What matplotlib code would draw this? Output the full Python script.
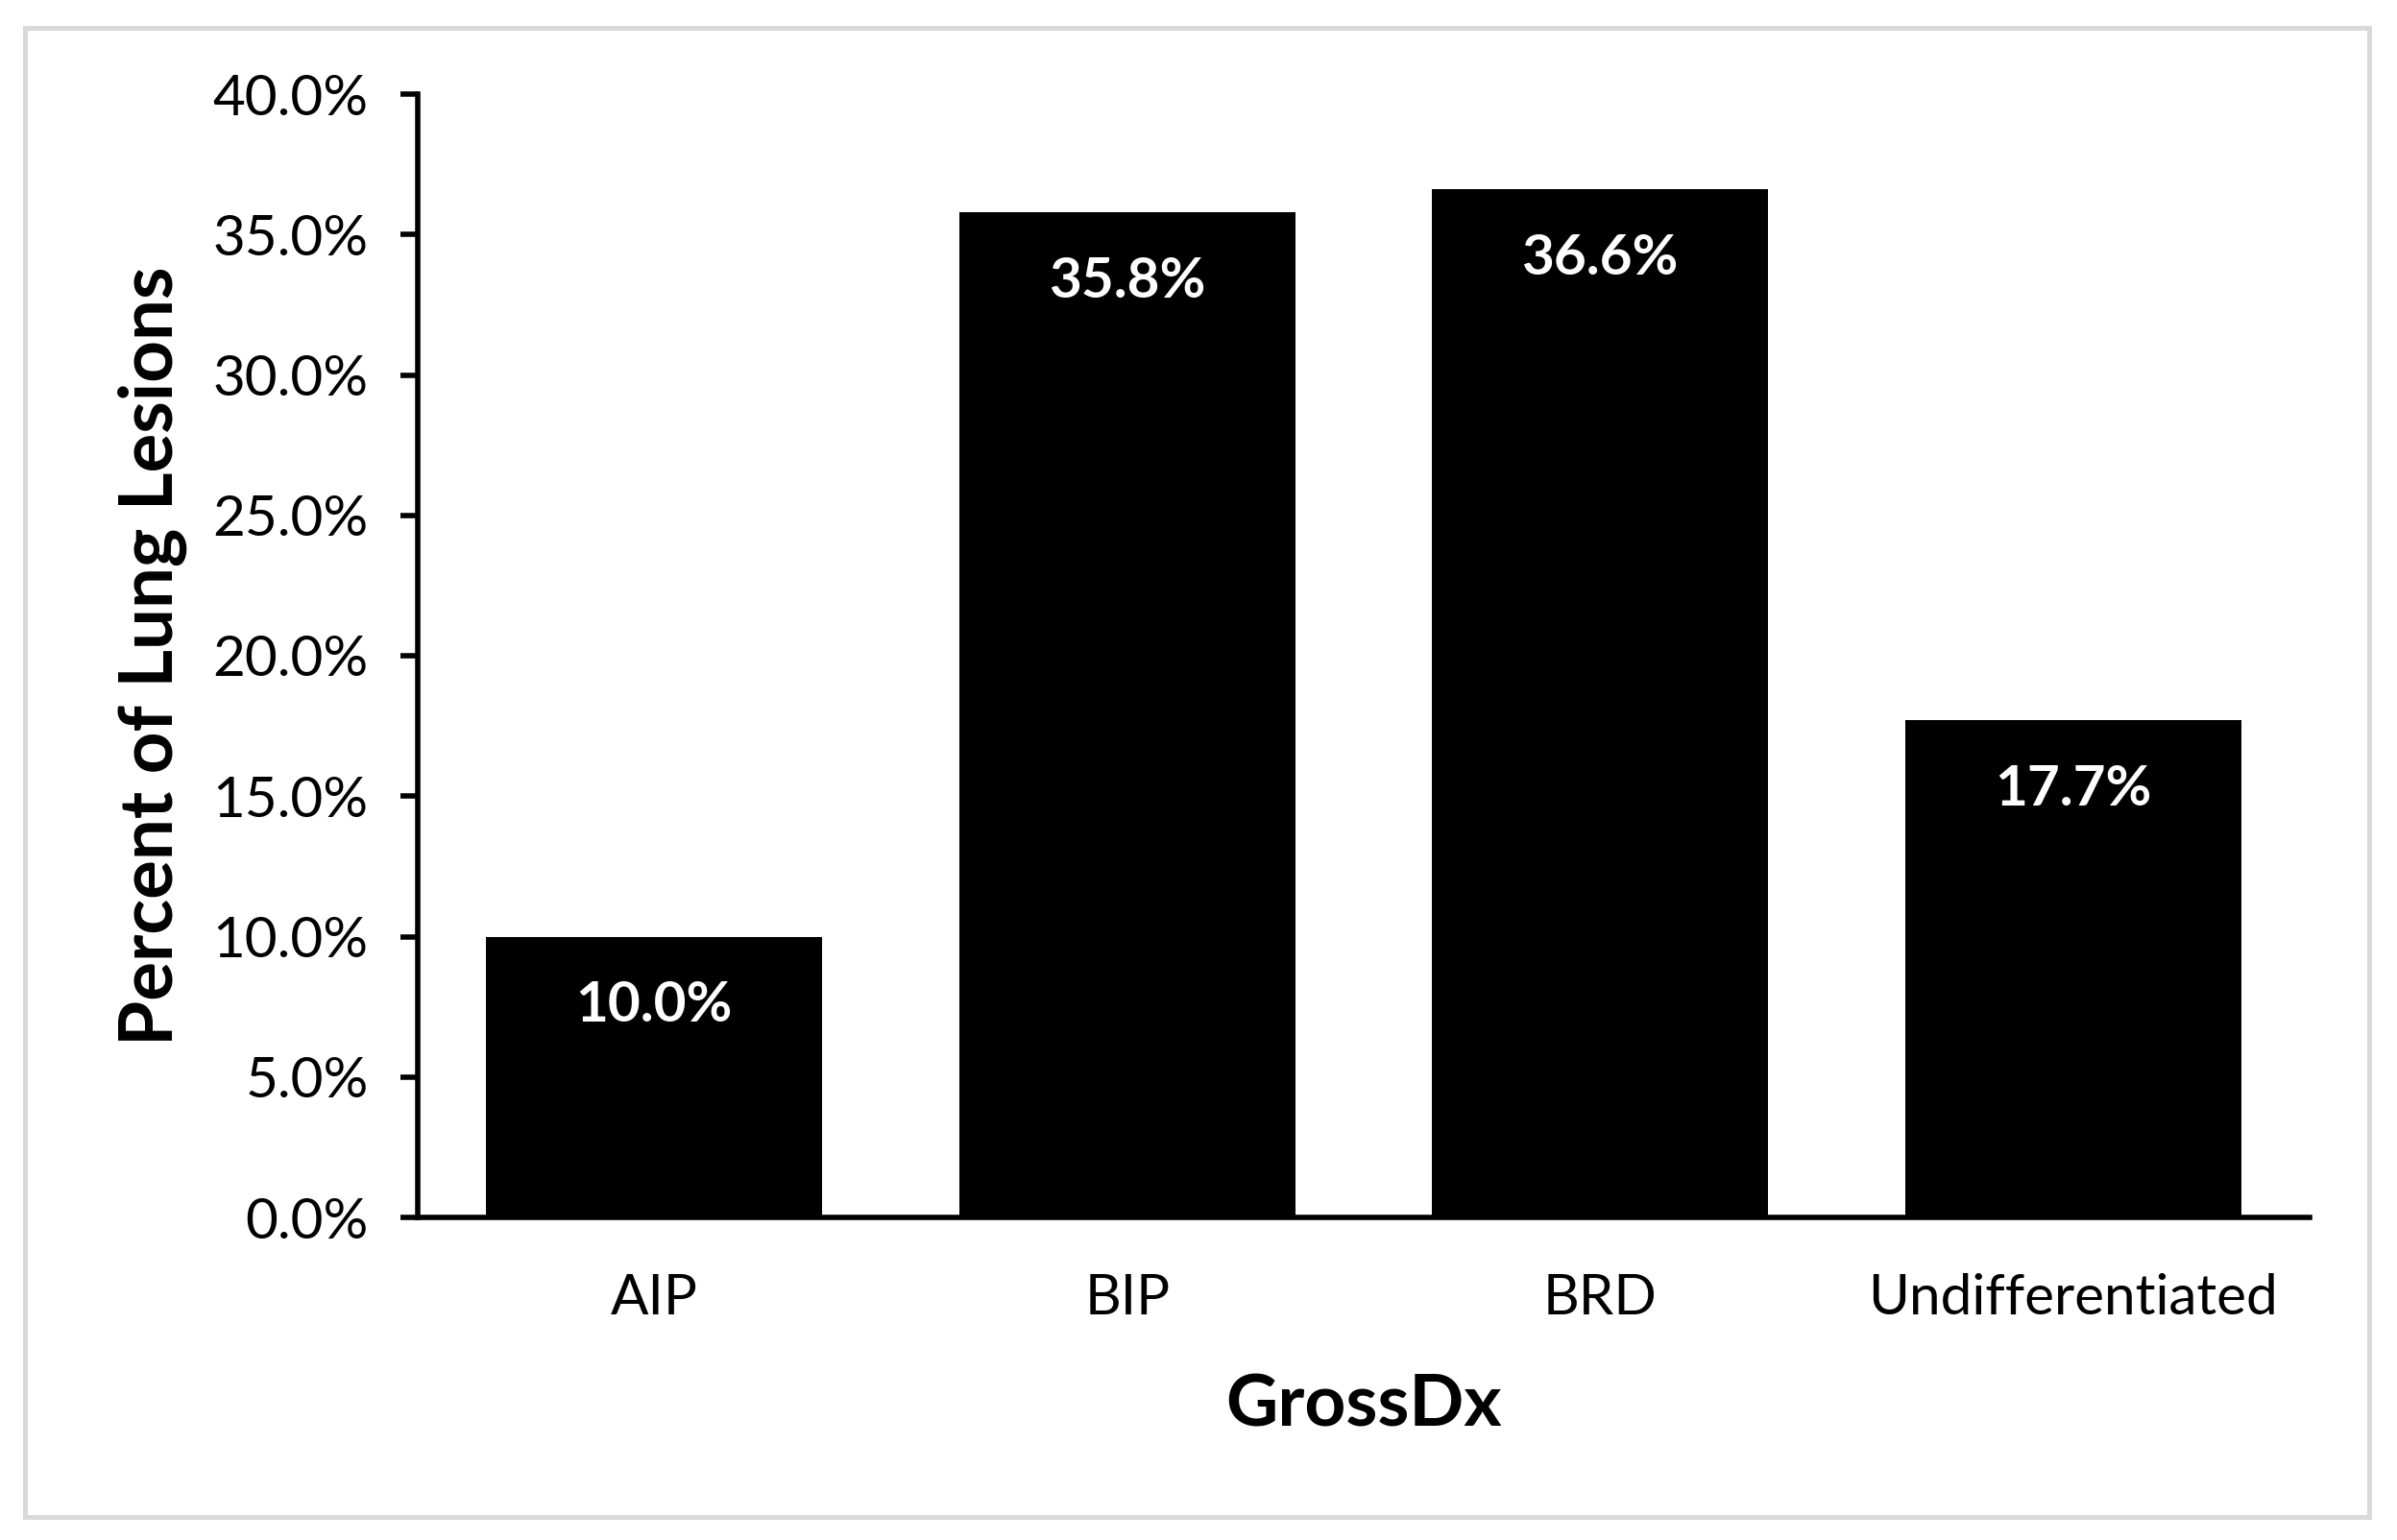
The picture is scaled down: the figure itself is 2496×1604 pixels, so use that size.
import matplotlib
matplotlib.use("Agg")
import matplotlib.pyplot as plt
from matplotlib.patches import Rectangle
from matplotlib.ticker import FuncFormatter, MultipleLocator

categories = ["AIP", "BIP", "BRD", "Undifferentiated"]
values = [10.0, 35.8, 36.6, 17.7]
value_labels = ["10.0%", "35.8%", "36.6%", "17.7%"]
x_title = "GrossDx"
y_title = "Percent of Lung Lesions"

plt.rcParams['font.family'] = ['Lato', 'DejaVu Sans']

DPI = 100
fig = plt.figure(figsize=(24.96, 16.04), dpi=DPI)
fig.patch.set_facecolor("white")

# outer light-gray frame
fig.patches.append(Rectangle((26 / 2496, 1 - 1580 / 1604), (2467 - 26) / 2496, (1580 - 29) / 1604,
                             transform=fig.transFigure, fill=False, edgecolor="#d9d9d9",
                             linewidth=3.6, zorder=0))

ax = fig.add_axes([435 / 2496, 1 - 1268 / 1604, (2405 - 435) / 2496, (1268 - 98) / 1604])
x = range(len(categories))
bars = ax.bar(x, values, width=0.71, color="black", zorder=2)

ax.set_xlim(-0.5, len(categories) - 0.5)
ax.set_ylim(0, 40)
ax.yaxis.set_major_locator(MultipleLocator(5))
ax.yaxis.set_major_formatter(FuncFormatter(lambda v, p: f"{v:.1f}%"))
ax.set_xticks(list(x))
ax.set_xticklabels(categories)

for s in ["top", "right"]:
    ax.spines[s].set_visible(False)
for s in ["left", "bottom"]:
    ax.spines[s].set_linewidth(4)
    ax.spines[s].set_color("black")

ax.tick_params(axis="y", direction="out", length=13, width=4, pad=24, labelsize=42)
ax.tick_params(axis="x", length=0, pad=42, labelsize=42)

ax.set_xlabel(x_title, fontsize=54, fontweight="bold", labelpad=36)
ax.set_ylabel(y_title, fontsize=55, fontweight="bold", labelpad=19)

for rect, lab in zip(bars, value_labels):
    ax.annotate(lab, xy=(rect.get_x() + rect.get_width() / 2, rect.get_height()),
                xytext=(0, -64), textcoords="offset points", ha="center", va="baseline",
                color="white", fontsize=42, fontweight="bold", zorder=3)

fig.savefig("out.png", dpi=DPI, facecolor="white")
